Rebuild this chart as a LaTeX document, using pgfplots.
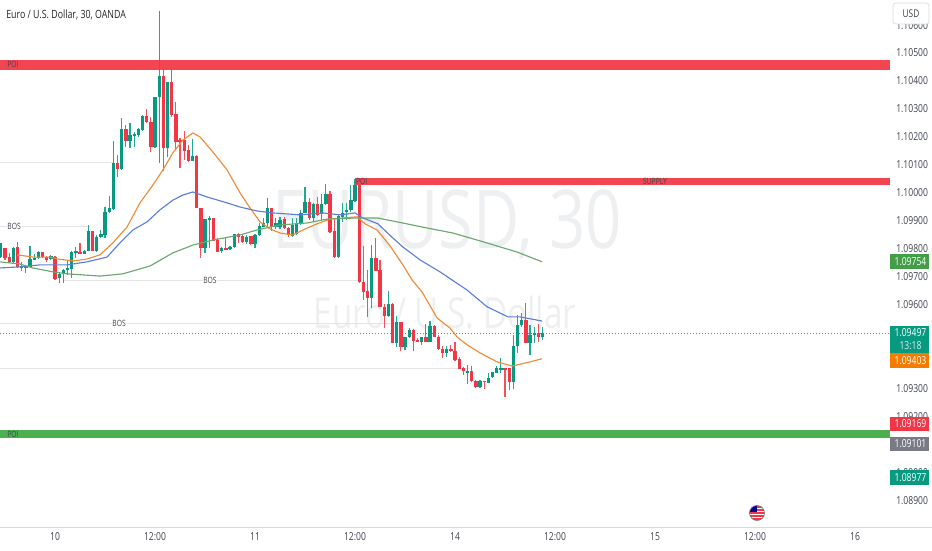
\documentclass[border=0pt]{standalone}
\usepackage{fontspec}
\setmainfont[FakeStretch=0.78]{Open Sans}
\usepackage{pgfplots}
\usepackage{pgfplotstable}
\pgfplotsset{compat=1.18}

\definecolor{upc}{HTML}{089981}
\definecolor{downc}{HTML}{F23645}
\definecolor{upwick}{HTML}{1FA892}
\definecolor{downwick}{HTML}{F4505C}
\definecolor{dotc}{HTML}{1FA892}
\definecolor{maorange}{HTML}{F08A35}
\definecolor{mablue}{HTML}{5B7FD9}
\definecolor{magreen}{HTML}{6AA86F}
\definecolor{zonegreen}{HTML}{4CAF50}
\definecolor{levelc}{HTML}{E4E4E6}
\definecolor{watermark}{HTML}{EDEFF1}
\definecolor{txt}{HTML}{3F434C}
\definecolor{tagorange}{HTML}{F57C00}
\definecolor{taggray}{HTML}{787B86}

% n open high low close
\pgfplotstableread{
n open high low close
0 1.09770 1.09821 1.09767 1.09821
3 1.09753 1.09806 1.09749 1.09803
5 1.09735 1.09753 1.09720 1.09738
6 1.09735 1.09738 1.09713 1.09738
7 1.09735 1.09810 1.09735 1.09763
8 1.09763 1.09781 1.09760 1.09767
9 1.09767 1.09792 1.09763 1.09788
12 1.09763 1.09778 1.09760 1.09774
14 1.09695 1.09717 1.09677 1.09710
15 1.09710 1.09728 1.09677 1.09724
16 1.09724 1.09760 1.09706 1.09731
17 1.09728 1.09792 1.09695 1.09788
18 1.09788 1.09806 1.09767 1.09792
20 1.09781 1.09795 1.09781 1.09792
21 1.09792 1.09885 1.09792 1.09863
23 1.09792 1.09849 1.09788 1.09842
24 1.09842 1.09867 1.09838 1.09853
25 1.09849 1.09949 1.09838 1.09931
26 1.09931 1.09989 1.09928 1.09946
27 1.09942 1.10186 1.09939 1.10107
29 1.10085 1.10268 1.10082 1.10228
31 1.10186 1.10250 1.10160 1.10207
32 1.10203 1.10218 1.10164 1.10211
33 1.10207 1.10232 1.10200 1.10228
34 1.10225 1.10279 1.10221 1.10275
37 1.10164 1.10343 1.10160 1.10343
38 1.10343 1.10651 1.10107 1.10418
40 1.10160 1.10397 1.10128 1.10397
46 1.10114 1.10193 1.10114 1.10132
49 1.09803 1.09906 1.09785 1.09906
50 1.09906 1.09917 1.09803 1.09910
53 1.09792 1.09806 1.09785 1.09803
55 1.09799 1.09810 1.09795 1.09806
56 1.09806 1.09853 1.09803 1.09853
59 1.09824 1.09849 1.09817 1.09842
61 1.09817 1.09853 1.09803 1.09849
62 1.09849 1.09892 1.09846 1.09881
63 1.09878 1.09910 1.09878 1.09892
64 1.09892 1.09982 1.09878 1.09946
66 1.09878 1.09910 1.09871 1.09892
67 1.09878 1.09914 1.09871 1.09906
70 1.09846 1.09910 1.09842 1.09885
71 1.09853 1.09910 1.09849 1.09889
72 1.09889 1.09939 1.09885 1.09928
73 1.09928 1.10021 1.09928 1.09967
75 1.09910 1.09964 1.09896 1.09960
77 1.09924 1.09996 1.09903 1.09960
78 1.09960 1.10032 1.09957 1.09996
81 1.09770 1.09921 1.09767 1.09917
82 1.09914 1.09964 1.09896 1.09931
83 1.09931 1.09964 1.09903 1.09939
84 1.09939 1.10028 1.09931 1.09974
85 1.09971 1.10050 1.09967 1.10028
89 1.09624 1.09813 1.09588 1.09767
93 1.09559 1.09649 1.09556 1.09602
95 1.09463 1.09559 1.09448 1.09538
97 1.09448 1.09484 1.09438 1.09484
98 1.09484 1.09516 1.09481 1.09509
101 1.09466 1.09484 1.09456 1.09484
103 1.09466 1.09541 1.09466 1.09524
107 1.09427 1.09452 1.09413 1.09441
112 1.09359 1.09384 1.09316 1.09363
115 1.09305 1.09330 1.09302 1.09327
117 1.09323 1.09355 1.09320 1.09341
118 1.09341 1.09359 1.09338 1.09359
119 1.09355 1.09380 1.09355 1.09373
120 1.09370 1.09409 1.09355 1.09373
123 1.09323 1.09491 1.09298 1.09452
124 1.09452 1.09563 1.09427 1.09527
125 1.09527 1.09570 1.09520 1.09545
127 1.09463 1.09527 1.09420 1.09491
128 1.09491 1.09520 1.09463 1.09499
130 1.09484 1.09520 1.09473 1.09497
}\upbars

\pgfplotstableread{
n open high low close
1 1.09803 1.09803 1.09760 1.09767
2 1.09770 1.09785 1.09749 1.09753
4 1.09806 1.09824 1.09731 1.09735
10 1.09788 1.09788 1.09767 1.09770
11 1.09770 1.09774 1.09753 1.09760
13 1.09770 1.09774 1.09688 1.09692
19 1.09788 1.09821 1.09781 1.09781
22 1.09863 1.09863 1.09792 1.09792
28 1.10107 1.10135 1.10057 1.10085
30 1.10228 1.10243 1.10164 1.10186
35 1.10275 1.10300 1.10250 1.10253
36 1.10253 1.10271 1.10146 1.10164
39 1.10418 1.10443 1.10078 1.10160
41 1.10397 1.10443 1.10271 1.10279
42 1.10282 1.10325 1.10153 1.10182
43 1.10189 1.10196 1.10089 1.10186
44 1.10189 1.10221 1.10118 1.10150
45 1.10153 1.10171 1.10111 1.10114
47 1.10132 1.10135 1.09946 1.09946
48 1.09946 1.09946 1.09767 1.09803
51 1.09910 1.09910 1.09828 1.09828
52 1.09831 1.09838 1.09788 1.09788
54 1.09803 1.09838 1.09795 1.09799
57 1.09853 1.09856 1.09821 1.09842
58 1.09846 1.09849 1.09821 1.09824
60 1.09846 1.09846 1.09813 1.09817
65 1.09946 1.09946 1.09863 1.09878
68 1.09906 1.09914 1.09871 1.09874
69 1.09874 1.09878 1.09842 1.09849
74 1.09967 1.09982 1.09903 1.09910
76 1.09960 1.09985 1.09917 1.09921
79 1.09996 1.10007 1.09856 1.09860
80 1.09863 1.09910 1.09767 1.09770
86 1.10028 1.10028 1.09677 1.09681
87 1.09681 1.09810 1.09617 1.09645
88 1.09649 1.09724 1.09556 1.09624
90 1.09767 1.09838 1.09720 1.09720
91 1.09724 1.09760 1.09592 1.09592
92 1.09592 1.09602 1.09516 1.09559
94 1.09602 1.09606 1.09463 1.09463
96 1.09538 1.09538 1.09434 1.09448
99 1.09509 1.09513 1.09434 1.09470
100 1.09473 1.09481 1.09466 1.09466
102 1.09484 1.09531 1.09466 1.09466
104 1.09524 1.09527 1.09484 1.09484
105 1.09484 1.09491 1.09438 1.09441
106 1.09441 1.09452 1.09409 1.09427
108 1.09441 1.09456 1.09431 1.09434
109 1.09434 1.09466 1.09398 1.09402
110 1.09406 1.09413 1.09370 1.09370
111 1.09373 1.09377 1.09348 1.09363
113 1.09363 1.09380 1.09323 1.09327
114 1.09327 1.09330 1.09302 1.09305
116 1.09327 1.09327 1.09298 1.09323
121 1.09373 1.09373 1.09270 1.09370
122 1.09373 1.09373 1.09295 1.09323
126 1.09545 1.09606 1.09463 1.09463
129 1.09499 1.09531 1.09466 1.09484
}\downbars

% wick series, then body series
\newcommand{\candles}[3]{%
  \addplot[color=#3, mark=none, draw opacity=0, forget plot,
    error bars/.cd, y dir=both, y explicit, error mark=-,
    error mark options={draw=none, fill=none, mark size=0pt},
    error bar style={line width=0.85pt, color=#3, draw opacity=1}]
    table[x=n, y expr={(\thisrow{high}+\thisrow{low})/2},
      y error expr={(\thisrow{high}-\thisrow{low})/2}] {#1};
  \addplot[color=#2, mark=none, draw opacity=0, forget plot,
    error bars/.cd, y dir=both, y explicit, error mark=-,
    error mark options={draw=none, fill=none, mark size=0pt},
    error bar style={line width=2.5pt, color=#2, draw opacity=1}]
    table[x=n, y expr={(\thisrow{open}+\thisrow{close})/2},
      y error expr={abs(\thisrow{close}-\thisrow{open})/2}] {#1};
}

\newcommand{\pricetag}[4]{%
  \fill[#1] (890,#2) rectangle (929,#3);
  \node[text=white, font=\fontsize{8.25}{9}\selectfont, inner sep=0pt] at (910.5,{(#2+#3)/2}) {#4};
}

\begin{document}
\begin{tikzpicture}
\path[use as bounding box] (0,-17.25pt) rectangle (699pt,395.25pt);

% watermark
\begin{scope}[x=0.75pt,y=-0.75pt,shift={(0,395.25pt)}]
  \node[text=watermark, font=\fontsize{61}{70}\selectfont, inner sep=0pt] at (447,224) {EURUSD, 30};
  \node[text=watermark, font=\fontsize{32}{36}\selectfont, inner sep=0pt] at (445,313) {Euro / U.S. Dollar};
\end{scope}

\begin{axis}[
    scale only axis,
    width=667.5pt, height=395.25pt,
    at={(0,0)}, anchor=south west,
    xmin=-0.2, xmax=213.4,
    ymin=1.08804, ymax=1.10690,
    axis x line*=bottom,
    axis y line*=right,
    axis line style={draw=none},
    tick style={draw=none},
    scaled y ticks=false,
    xtick={13,37,61,85,109,133,157,181,205},
    xticklabels={10,12:00,11,12:00,14,12:00,15,12:00,16},
    ytick={1.089,1.090,1.091,1.092,1.093,1.094,1.095,1.096,1.097,1.098,1.099,1.100,1.101,1.102,1.103,1.104,1.105,1.106},
    /pgf/number format/fixed,
    /pgf/number format/fixed zerofill,
    /pgf/number format/precision=5,
    /pgf/number format/assume math mode=true,
    tick label style={font=\fontsize{8.25}{9}\selectfont, text=txt, inner sep=0pt},
    yticklabel style={anchor=west, xshift=4.5pt},
    xticklabel style={anchor=center, yshift=-7.5pt},
  ]

% horizontal levels
\addplot[levelc, line width=0.7pt, forget plot] coordinates {(-0.2,1.10107) (26.9,1.10107)};
\addplot[levelc, line width=0.7pt, forget plot] coordinates {(-0.2,1.09881) (21.4,1.09881)};
\addplot[levelc, line width=0.7pt, forget plot] coordinates {(14.9,1.09685) (86.2,1.09685)};
\addplot[levelc, line width=0.7pt, forget plot] coordinates {(-0.2,1.09531) (94.6,1.09531)};
\addplot[levelc, line width=0.7pt, forget plot] coordinates {(-0.2,1.09370) (112.6,1.09370)};

% current price
\addplot[dotc, line width=0.75pt, dash pattern=on 0.75pt off 1.5pt, mark=none, forget plot] coordinates {(-0.2,1.09497) (213.4,1.09497)};

\candles{\upbars}{upc}{upwick}
\candles{\downbars}{downc}{downwick}

% moving averages
\addplot[maorange, line width=0.85pt, forget plot] coordinates {
(3.9,1.09778) (7.7,1.09770) (11.8,1.09770) (13.7,1.09763) (17.3,1.09756) (20.7,1.09763) (23.8,1.09778)
(26.9,1.09821) (30.3,1.09878) (33.4,1.09964) (36.5,1.10028) (38.9,1.10082) (41.3,1.10143) (43.7,1.10189)
(46.1,1.10214) (47.8,1.10200) (50.9,1.10146) (54.3,1.10082) (57.4,1.10000) (59.8,1.09946) (62.2,1.09896)
(64.6,1.09871) (67,1.09856) (70.1,1.09849) (72.5,1.09867) (75.9,1.09889) (79,1.09906) (82.1,1.09910)
(85.5,1.09914) (87.4,1.09889) (90.3,1.09867) (93.4,1.09810) (96.5,1.09742) (98.7,1.09688) (101.1,1.09645)
(104.7,1.09552) (107.8,1.09516) (109.5,1.09484) (111.9,1.09456) (115,1.09427) (119.1,1.09395) (122.7,1.09380)
(123.9,1.09384) (127,1.09395) (129.9,1.09406)};
\addplot[mablue, line width=0.85pt, forget plot] coordinates {
(-0.2,1.09731) (4.6,1.09735) (9.4,1.09742) (15.9,1.09742) (20.7,1.09753) (25.5,1.09770) (28.6,1.09821)
(31.7,1.09867) (35.1,1.09896) (38.2,1.09939) (41.3,1.09974) (43.7,1.09992) (46.1,1.10003) (49.5,1.09985)
(54.3,1.09964) (57.4,1.09949) (61.5,1.09935) (65.3,1.09928) (71.8,1.09921) (77.3,1.09928) (81.4,1.09921)
(85,1.09928) (86.9,1.09910) (90.5,1.09889) (94.1,1.09838) (96.5,1.09806) (100.6,1.09760) (105.4,1.09717)
(111.9,1.09652) (116.7,1.09592) (121.7,1.09556) (124.6,1.09556) (129.9,1.09541)};
\addplot[magreen, line width=0.85pt, forget plot] coordinates {
(-0.2,1.09753) (4.6,1.09745) (7.7,1.09731) (12.5,1.09717) (15.9,1.09710) (23.8,1.09702) (29.3,1.09710)
(35.8,1.09738) (41.3,1.09785) (46.1,1.09813) (50.9,1.09831) (57.4,1.09849) (61.5,1.09867) (67,1.09885)
(73.5,1.09892) (78.3,1.09906) (85.5,1.09910) (90.3,1.09910) (95.1,1.09896) (102.3,1.09874) (108.5,1.09856)
(115,1.09828) (123.9,1.09788) (129.9,1.09753)};

% zones
\addplot[draw=none, fill=downc, fill opacity=0.93, forget plot] coordinates {(-0.2,1.10475) (213.4,1.10475) (213.4,1.10440) (-0.2,1.10440)} -- cycle;
\addplot[draw=none, fill=downc, fill opacity=0.93, forget plot] coordinates {(85,1.10053) (213.4,1.10053) (213.4,1.10028) (85,1.10028)} -- cycle;
\addplot[draw=none, fill=zonegreen, forget plot] coordinates {(-0.2,1.09151) (213.4,1.09151) (213.4,1.09123) (-0.2,1.09123)} -- cycle;

% labels on levels and zones
\begin{scope}[every node/.style={font=\fontsize{6.5}{7}\selectfont, text=txt, inner sep=0.6pt}]
  \node at (axis cs:2.9,1.10458) {POI};
  \node at (axis cs:2.9,1.09137) {POI};
  \node at (axis cs:86.6,1.10040) {POI};
  \node at (axis cs:157,1.10040) {SUPPLY};
  \node[fill=white] at (axis cs:3.2,1.09881) {BOS};
  \node[fill=white] at (axis cs:50.2,1.09685) {BOS};
  \node[fill=white] at (axis cs:28.4,1.09531) {BOS};
\end{scope}
\end{axis}

\begin{scope}[x=0.75pt,y=-0.75pt,shift={(0,395.25pt)}]
  % title
  \node[anchor=west, text=black!85, font=\fontsize{8.5}{10}\selectfont, inner sep=0pt] at (6,14.5) {Euro / U.S. Dollar, 30, OANDA};
  % bottom rule
  \draw[black!15, line width=0.5pt] (0,527) -- (932,527);
  % currency button
  \draw[black!15, fill=white, rounded corners=2pt, line width=0.5pt] (893,3) rectangle (929,24);
  \node[text=txt, font=\fontsize{8}{9}\selectfont, inner sep=0pt] at (911,14) {USD};
  % price tags
  \pricetag{zonegreen!90!black}{254}{269}{1.09754}
  \fill[upc] (890,326) rectangle (929,353);
  \node[text=white, font=\fontsize{8.25}{9}\selectfont, inner sep=0pt] at (910.5,333) {1.09497};
  \node[text=white!85!upc, font=\fontsize{8.25}{9}\selectfont, inner sep=0pt] at (910.5,346) {13:18};
  \pricetag{tagorange}{353}{368}{1.09403}
  \pricetag{downc}{417}{431}{1.09169}
  \pricetag{taggray}{437}{451}{1.09101}
  \pricetag{upc}{470}{485}{1.08977}
  % economic event flag
  \begin{scope}
    \clip (757,513) circle (7.5);
    \fill[white] (749,505) rectangle (765,521);
    \foreach \s in {506,509,512,515,518} \fill[downc] (749,\s) rectangle (765,\s+1.6);
    \fill[blue!60!black] (749,505) rectangle (757,512);
  \end{scope}
  \draw[black!55, line width=0.5pt] (757,513) circle (7.5);
\end{scope}
\end{tikzpicture}
\end{document}
